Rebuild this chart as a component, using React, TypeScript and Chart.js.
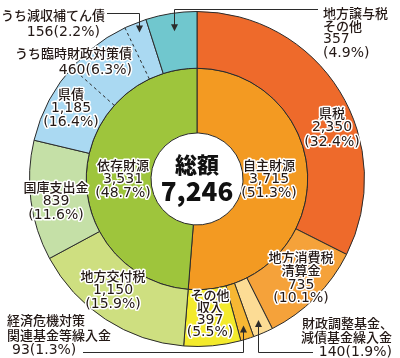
import React, { useEffect, useRef } from "react";
import { Chart, registerables } from "chart.js";

Chart.register(...registerables);

// ---- data ----
const outerLabels = [
  "県税",
  "地方消費税清算金",
  "財政調整基金、減債基金繰入金",
  "経済危機対策関連基金等繰入金",
  "その他収入",
  "地方交付税",
  "国庫支出金",
  "県債",
  "地方譲与税その他",
];
const outerValues = [2350, 735, 140, 93, 397, 1150, 839, 1185, 357];
const outerColors = [
  "#EE6A2B",
  "#F5A23A",
  "#FCDC95",
  "#F7B733",
  "#F3EA2C",
  "#CEDF80",
  "#C5E0A7",
  "#AAD9F2",
  "#70C7CE",
];
const innerLabels = ["自主財源", "依存財源"];
const innerValues = [3715, 3531];
const innerColors = ["#F39A22", "#9EC53C"];

// sub-portions of 県債 (adjacent to 地方譲与税)
const kensaiSub = [156, 460];

const totalLabel = "総額";
const totalValue = "7,246";

// label text lines
const segLabels: { lines: string[]; dx: number; dy: number[] }[] = [
  { lines: ["県税", "2,350", "(32.4%)"], dx: 135, dy: [-66, -52, -37] },
  { lines: ["地方消費税", "清算金", "735", "(10.1%)"], dx: 104, dy: [78, 91, 106, 119] },
  { lines: ["その他", "収入", "397", "(5.5%)"], dx: 13, dy: [116, 128, 141, 153] },
  { lines: ["地方交付税", "1,150", "(15.9%)"], dx: -84, dy: [97, 111, 125] },
  { lines: ["国庫支出金", "839", "(11.6%)"], dx: -141, dy: [8, 22, 36] },
  { lines: ["県債", "1,185", "(16.4%)"], dx: -126, dy: [-85, -71, -57] },
  { lines: ["依存財源", "3,531", "(48.7%)"], dx: -74, dy: [-14, 0, 14] },
  { lines: ["自主財源", "3,715", "(51.3%)"], dx: 72, dy: [-14, 0, 14] },
];

const outLabels: { lines: string[]; align: CanvasTextAlign; dx: number[]; dy: number[] }[] = [
  { lines: ["地方譲与税", "その他", "357", "(4.9%)"], align: "left", dx: [126, 126, 126, 126], dy: [-166, -153, -140, -126] },
  { lines: ["うち減収補てん債", "156(2.2%)"], align: "right", dx: [-92, -97], dy: [-164, -147] },
  { lines: ["うち臨時財政対策債", "460(6.3%)"], align: "right", dx: [-65, -65], dy: [-126, -109] },
  { lines: ["経済危機対策", "関連基金等繰入金", "93(1.3%)"], align: "left", dx: [-190, -190, -185], dy: [141, 156, 171] },
  { lines: ["財政調整基金、", "減債基金繰入金", "140(1.9%)"], align: "right", dx: [196, 195, 195], dy: [144, 158, 173] },
];

const isNum = (s: string) => /^[0-9(),.%]+$/.test(s);
const TEXT = "#231815";
const LINE = "#2b2b2b";

function drawText(ctx: CanvasRenderingContext2D, s: string, x: number, y: number, align: CanvasTextAlign) {
  ctx.font = isNum(s) ? "14px 'DejaVu Sans'" : "500 13px 'Noto Sans CJK JP'";
  ctx.textAlign = align;
  ctx.textBaseline = "middle";
  ctx.lineJoin = "round";
  ctx.strokeStyle = "#ffffff";
  ctx.lineWidth = 3;
  ctx.strokeText(s, x, y);
  ctx.fillStyle = TEXT;
  ctx.fillText(s, x, y);
}

function arrow(ctx: CanvasRenderingContext2D, x: number, y: number, dir: number) {
  // dir: 1 = pointing down, -1 = pointing up
  ctx.beginPath();
  ctx.moveTo(x, y);
  ctx.lineTo(x - 3.5, y - dir * 7);
  ctx.lineTo(x + 3.5, y - dir * 7);
  ctx.closePath();
  ctx.fillStyle = LINE;
  ctx.fill();
}

const annotate = {
  id: "annotate",
  afterDatasetsDraw(chart: any) {
    const ctx: CanvasRenderingContext2D = chart.ctx;
    const arcs = chart.getDatasetMeta(0).data;
    const a0 = arcs[0];
    const cx = a0.x, cy = a0.y, R = a0.outerRadius;
    const pt = (ang: number, r: number) => [cx + r * Math.cos(ang), cy + r * Math.sin(ang)];
    ctx.save();

    // dashed lines inside 県債
    const ks = arcs[7];
    const span = ks.endAngle - ks.startAngle;
    let acc = 0;
    ctx.setLineDash([3, 3]);
    ctx.strokeStyle = LINE;
    ctx.lineWidth = 1;
    for (const v of kensaiSub) {
      acc += v;
      const ang = ks.endAngle - (acc / outerValues[7]) * span;
      const [x1, y1] = pt(ang, ks.innerRadius);
      const [x2, y2] = pt(ang, ks.outerRadius);
      ctx.beginPath();
      ctx.moveTo(x1, y1);
      ctx.lineTo(x2, y2);
      ctx.stroke();
    }
    ctx.setLineDash([]);

    // leader lines
    const mid = (a: any) => (a.startAngle + a.endAngle) / 2;
    ctx.lineWidth = 1;
    ctx.strokeStyle = LINE;
    // 地方譲与税
    {
      const [tx, ty] = pt(mid(arcs[8]), R - 18);
      const x = Math.round(tx) + 0.5;
      const yTop = Math.round(cy - R - 3) + 0.5;
      ctx.beginPath();
      ctx.moveTo(x, ty - 6);
      ctx.lineTo(x, yTop);
      ctx.lineTo(cx + 121, yTop);
      ctx.stroke();
      arrow(ctx, x, ty, 1);
    }
    // うち減収補てん債
    {
      const ang = ks.endAngle - (kensaiSub[0] / 2 / outerValues[7]) * span;
      const [tx, ty] = pt(ang, R - 10);
      const x = Math.round(tx) + 0.5;
      const yTop = Math.round(cy - 166) + 0.5;
      ctx.beginPath();
      ctx.moveTo(x, ty - 6);
      ctx.lineTo(x, yTop);
      ctx.lineTo(cx - 90, yTop);
      ctx.stroke();
      arrow(ctx, x, ty, 1);
    }
    // 経済危機対策 (93) and 財政調整基金 (140)
    const yBot = Math.round(cy + R + 5) + 0.5;
    {
      const [tx, ty] = pt(mid(arcs[3]), R - 14);
      const x = Math.round(tx) + 0.5;
      ctx.beginPath();
      ctx.moveTo(x, ty + 6);
      ctx.lineTo(x, yBot);
      ctx.lineTo(cx - 114, yBot);
      ctx.stroke();
      arrow(ctx, x, ty, -1);
    }
    {
      const [tx, ty] = pt(mid(arcs[2]), R - 14);
      const x = Math.round(tx) + 0.5;
      ctx.beginPath();
      ctx.moveTo(x, ty + 6);
      ctx.lineTo(x, yBot);
      ctx.lineTo(cx + 116, yBot);
      ctx.stroke();
      arrow(ctx, x, ty, -1);
    }

    // labels
    for (const l of segLabels) {
      l.lines.forEach((s, i) => drawText(ctx, s, cx + l.dx, cy + l.dy[i], "center"));
    }
    for (const l of outLabels) {
      l.lines.forEach((s, i) => drawText(ctx, s, cx + l.dx[i], cy + l.dy[i], l.align));
    }

    // center total
    ctx.textAlign = "center";
    ctx.textBaseline = "middle";
    ctx.fillStyle = "#111";
    ctx.font = "900 22px 'Noto Sans CJK JP'";
    ctx.fillText(totalLabel, cx, cy - 14);
    ctx.font = "900 26px 'Noto Sans CJK JP'";
    ctx.fillText(totalValue, cx, cy + 12);
    ctx.restore();
  },
};

export default function App() {
  const ref = useRef<HTMLCanvasElement>(null);
  useEffect(() => {
    document.body.style.margin = "0";
    const chart = new Chart(ref.current!, {
      type: "doughnut",
      data: {
        labels: outerLabels,
        datasets: [
          {
            data: outerValues,
            backgroundColor: outerColors,
            borderColor: LINE,
            borderWidth: 1,
            weight: 57,
          } as any,
          {
            data: innerValues,
            backgroundColor: innerColors,
            borderColor: LINE,
            borderWidth: 1,
            weight: 65,
            labels: innerLabels,
          } as any,
        ],
      },
      options: {
        responsive: false,
        animation: false,
        cutout: 46,
        layout: { padding: { left: 29, right: 35, top: 11, bottom: 11 } },
        plugins: { legend: { display: false }, tooltip: { enabled: false } },
      },
      plugins: [annotate],
    });
    return () => chart.destroy();
  }, []);
  return (
    <div style={{ position: "fixed", left: 0, top: 0, width: 400, height: 358, background: "#fff" }}>
      <canvas ref={ref} width={400} height={358} />
    </div>
  );
}
